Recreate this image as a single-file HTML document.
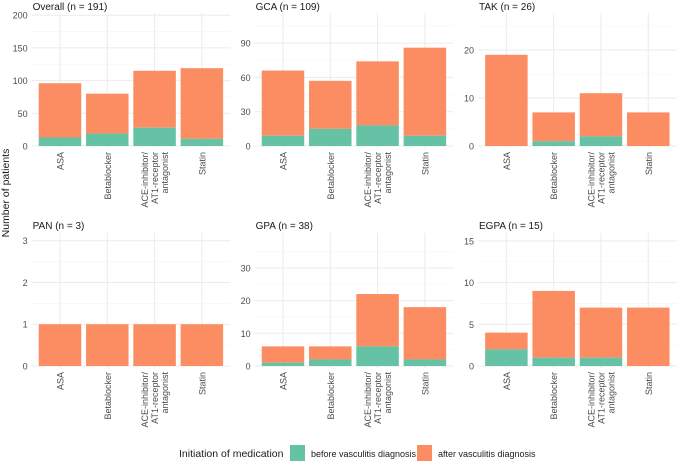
<!DOCTYPE html>
<html><head><meta charset="utf-8"><style>
body{margin:0;background:#fff;font-family:"Liberation Sans",sans-serif}
svg text{font-family:"Liberation Sans",sans-serif}
</style></head><body>
<svg id="c" width="677" height="462"></svg>
<script>
const categories=["ASA","Betablocker","ACE-inhibitor/|AT1-receptor|antagonist","Statin"];
const panelTitles=["Overall (n = 191)","GCA (n = 109)","TAK (n = 26)","PAN (n = 3)","GPA (n = 38)","EGPA (n = 15)"];
const beforeVals=[[13,19,28,11],[9,15,18,9],[0,1,2,0],[0,0,0,0],[1,2,6,2],[2,1,1,0]];
const totalVals=[[96,80,115,119],[66,57,74,86],[19,7,11,7],[1,1,1,1],[6,6,22,18],[4,9,7,7]];
const yTicks=[[0,50,100,150,200],[0,30,60,90],[0,10,20],[0,1,2,3],[0,10,20,30],[0,5,10,15]];
const yPxPerUnit=[32.7/50,34.3/30,4.8,41.77,3.27,8.34];
const NS="http://www.w3.org/2000/svg";
const svg=document.getElementById('c');
function mk(t,a,p){const e=document.createElementNS(NS,t);for(const k in a)e.setAttribute(k,a[k]);(p||svg).appendChild(e);return e;}
const colLeft=[31.6,254.6,478],rowBase=[146,366],rowTop=[13,233],titleY=[10,229],step=47.3,bw=42.5,pw=199;
for(let p=0;p<6;p++){
  const col=p%3,row=Math.floor(p/3);
  const g=mk('g',{});
  
  
  const L=colLeft[col],B=rowBase[row],T=rowTop[row];
  const y=v=>B-v*yPxPerUnit[p];
  const x=i=>L+step*(0.6+i);
  const tk=yTicks[p],d=tk[1]-tk[0];
  for(let i=0;i<tk.length+1;i++){const v=tk[0]+d*(i+0.5);if(y(v)<T)break;
    mk('line',{x1:L,x2:L+pw,y1:y(v),y2:y(v),stroke:'#f4f4f4','stroke-width':0.6},g);}
  tk.forEach(v=>{
    const gl=mk('line',{x1:L,x2:L+pw,y1:y(v),y2:y(v),stroke:'#ebebeb','stroke-width':1},g);
    
    
    const t=mk('text',{x:L-4,y:y(v)+3.5,'font-size':9,fill:'#4d4d4d','text-anchor':'end'},g);t.textContent=v;
    
    
  });
  categories.forEach((c,i)=>{
    mk('line',{x1:x(i),x2:x(i),y1:T,y2:B+2,stroke:'#ebebeb','stroke-width':1},g);
  });
  categories.forEach((c,i)=>{
    const b=beforeVals[p][i],tot=totalVals[p][i];
    const ra=mk('rect',{x:x(i)-bw/2,y:y(tot),width:bw,height:y(b)-y(tot),fill:'#fc8d62'},g);
    
    
    if(b>0){const rb=mk('rect',{x:x(i)-bw/2,y:y(b),width:bw,height:B-y(b),fill:'#66c2a5'},g);
      
      }
    const lines=c.split('|');
    lines.forEach((ln,j)=>{
      const lx=x(i)+3.5+(j-(lines.length-1)/2)*10;
      const t=mk('text',{x:lx,y:B+6,'font-size':9,fill:'#4d4d4d','text-anchor':'end',transform:`rotate(-90 ${lx} ${B+6})`},g);
      t.textContent=ln;
      
      
    });
  });
  const tt=mk('text',{x:L+1,y:titleY[row],'font-size':10,fill:'#1a1a1a'},g);tt.textContent=panelTitles[p];
  
  
}
const yt=mk('text',{x:9,y:193,'font-size':10.5,fill:'#1a1a1a','text-anchor':'middle',transform:'rotate(-90 9 193)'});
yt.textContent='Number of patients';


const lg=mk('g',{});


const lt=mk('text',{x:179,y:457,'font-size':10.5,fill:'#1a1a1a'},lg);lt.textContent='Initiation of medication';
const k1=mk('rect',{x:290,y:445,width:15,height:16,fill:'#66c2a5'},lg);


const l1=mk('text',{x:311,y:457,'font-size':9,fill:'#1a1a1a'},lg);l1.textContent='before vasculitis diagnosis';
const k2=mk('rect',{x:417,y:445,width:15,height:16,fill:'#fc8d62'},lg);


const l2=mk('text',{x:438,y:457,'font-size':9,fill:'#1a1a1a'},lg);l2.textContent='after vasculitis diagnosis';
</script>
</body></html>
